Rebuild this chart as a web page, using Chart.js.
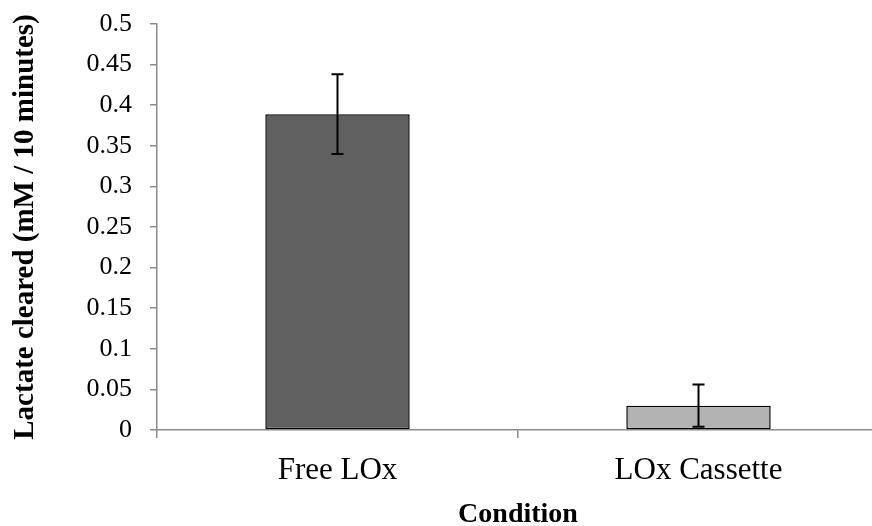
<!DOCTYPE html>
<html>
<head>
<meta charset="utf-8">
<script src="https://cdn.jsdelivr.net/npm/chart.js@4"></script>
<style>
  html, body { margin: 0; padding: 0; background: #ffffff; overflow: hidden; }
  #wrap { width: 880px; height: 526px; }
</style>
</head>
<body>
<div id="wrap"><canvas id="c" width="880" height="526"></canvas></div>
<script>
const categories = ['Free LOx', 'LOx Cassette'];
const lactateCleared = [0.389, 0.030];
const errorValues = [0.049, 0.026];
const barColors = ['#606060', '#b3b3b3'];
const yTickLabels = ['0', '0.05', '0.1', '0.15', '0.2', '0.25', '0.3', '0.35', '0.4', '0.45', '0.5'];
const yAxisTitle = 'Lactate cleared (mM / 10 minutes)';
const xAxisTitle = 'Condition';

const AXIS_COLOR = '#8c8c8c';
const SERIF = "'Liberation Serif', 'Times New Roman', serif";

const errorBarPlugin = {
  id: 'errorBars',
  afterDatasetsDraw(chart) {
    const ctx = chart.ctx;
    const meta = chart.getDatasetMeta(0);
    const yScale = chart.scales.y;
    ctx.save();
    ctx.strokeStyle = '#000000';
    ctx.lineWidth = 2;
    meta.data.forEach((bar, i) => {
      const v = lactateCleared[i];
      const e = errorValues[i];
      const x = bar.x;
      const yTop = yScale.getPixelForValue(v + e);
      const yBot = yScale.getPixelForValue(v - e);
      const cap = 6;
      ctx.beginPath();
      ctx.moveTo(x, yTop); ctx.lineTo(x, yBot);
      ctx.moveTo(x - cap, yTop); ctx.lineTo(x + cap, yTop);
      ctx.moveTo(x - cap, yBot); ctx.lineTo(x + cap, yBot);
      ctx.stroke();
    });
    ctx.restore();
  }
};

new Chart(document.getElementById('c'), {
  type: 'bar',
  data: {
    labels: categories,
    datasets: [{
      data: lactateCleared,
      backgroundColor: barColors,
      borderColor: '#000000',
      borderWidth: 1.5,
      borderSkipped: false,
      barPercentage: 0.4,
      categoryPercentage: 1.0
    }]
  },
  options: {
    responsive: false,
    animation: false,
    devicePixelRatio: 1,
    layout: { padding: { top: 24, right: 1, left: 0, bottom: 0 } },
    plugins: {
      legend: { display: false },
      tooltip: { enabled: false }
    },
    scales: {
      x: {
        offset: true,
        grid: {
          offset: true,
          drawOnChartArea: false,
          drawTicks: true,
          tickLength: 8,
          color: AXIS_COLOR,
          lineWidth: 1.5
        },
        border: { color: AXIS_COLOR, width: 1.5 },
        ticks: {
          color: '#000000',
          padding: 14,
          font: { family: SERIF, size: 31 }
        },
        title: {
          display: true,
          text: xAxisTitle,
          color: '#000000',
          padding: { top: 0, bottom: 0 },
          font: { family: SERIF, size: 28, weight: 'bold', lineHeight: 0.8 }
        },
        afterFit(scale) { scale.height = 96; }
      },
      y: {
        min: 0,
        max: 0.5,
        grid: {
          drawOnChartArea: false,
          drawTicks: true,
          tickLength: 7,
          color: AXIS_COLOR,
          lineWidth: 1.5
        },
        border: { color: AXIS_COLOR, width: 1.5 },
        ticks: {
          stepSize: 0.05,
          color: '#000000',
          padding: 18,
          font: { family: SERIF, size: 26 },
          callback: (value, index) => yTickLabels[index]
        },
        title: {
          display: true,
          text: yAxisTitle,
          color: '#000000',
          padding: { top: 8, bottom: 0 },
          font: { family: SERIF, size: 29, weight: 'bold' }
        },
        afterFit(scale) {
          scale.width = 157;
          scale.paddingTop = 0;
          scale.paddingBottom = 0;
        }
      }
    }
  },
  plugins: [errorBarPlugin]
});
</script>
</body>
</html>
